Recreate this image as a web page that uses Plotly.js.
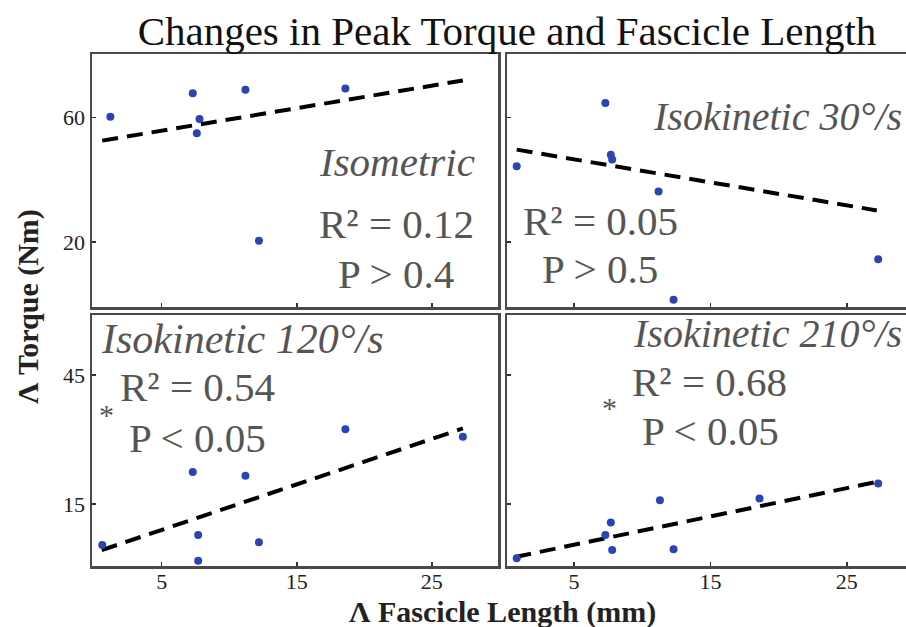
<!DOCTYPE html>
<html>
<head>
<meta charset="utf-8">
<script src="https://cdn.plot.ly/plotly-3.0.1.min.js"></script>
<style>html,body{margin:0;padding:0;background:#fff;}</style>
</head>
<body>
<div id="chart" style="width:906px;height:627px;"></div>
<script>
// ---- data ----
const panelNames = ["Isometric", "Isokinetic 30°/s", "Isokinetic 120°/s", "Isokinetic 210°/s"];
const r2Labels = ["R² = 0.12", "R² = 0.05", "R² = 0.54", "R² = 0.68"];
const pLabels = ["P > 0.4", "P > 0.5", "P < 0.05", "P < 0.05"];

const isoX = [1.2, 7.3, 11.2, 18.6, 7.8, 7.6, 12.2];
const isoY = [60.3, 67.8, 68.9, 69.3, 59.5, 55.0, 20.5];
const isoFitX = [0.6, 27.3];
const isoFitY = [52.6, 71.9];

const ik30X = [0.8, 7.3, 7.7, 7.8, 11.2, 12.3, 27.3];
const ik30Y = [44.4, 64.7, 48.1, 46.5, 36.3, 1.5, 14.5];
const ik30FitX = [0.8, 27.2];
const ik30FitY = [49.7, 30.2];

const ik120X = [0.6, 7.3, 11.2, 18.6, 27.3, 7.7, 12.2, 7.7];
const ik120Y = [5.5, 22.5, 21.6, 32.4, 30.7, 7.8, 6.1, 1.8];
const ik120FitX = [0.56, 27.3];
const ik120FitY = [4.3, 32.6];

const ik210X = [0.8, 7.7, 7.3, 7.8, 11.3, 12.3, 18.6, 27.3];
const ik210Y = [2.4, 10.7, 7.8, 4.3, 15.9, 4.5, 16.3, 19.8];
const ik210FitX = [0.7, 27.25];
const ik210FitY = [2.7, 20.2];

const xTicks = [5, 15, 25];
const yTicksTop = [20, 60];
const yTicksBottom = [15, 45];

const chartTitle = "Changes in Peak Torque and Fascicle Length";
const xTitle = "Λ Fascicle Length (mm)";
const yTitle = "Λ Torque (Nm)";

// ---- layout helpers ----
const W = 906, H = 627;
const px = v => v / W;
const py = v => 1 - v / H;
const serif = "Liberation Serif, Times New Roman, serif";
const dotColor = "#2c43b4";

function pts(x, y, xa, ya) {
  return {x: x, y: y, xaxis: xa, yaxis: ya, type: "scatter", mode: "markers",
          marker: {color: dotColor, size: 8}, showlegend: false, hoverinfo: "skip"};
}
function fit(x, y, xa, ya) {
  return {x: x, y: y, xaxis: xa, yaxis: ya, type: "scatter", mode: "lines",
          line: {color: "#000", width: 4, dash: "16px,9px"}, showlegend: false, hoverinfo: "skip"};
}

const data = [
  fit(isoFitX, isoFitY, "x", "y"), pts(isoX, isoY, "x", "y"),
  fit(ik30FitX, ik30FitY, "x2", "y2"), pts(ik30X, ik30Y, "x2", "y2"),
  fit(ik120FitX, ik120FitY, "x3", "y3"), pts(ik120X, ik120Y, "x3", "y3"),
  fit(ik210FitX, ik210FitY, "x4", "y4"), pts(ik210X, ik210Y, "x4", "y4")
];

function ax(extra) {
  return Object.assign({
    showgrid: false, zeroline: false, showline: true, linecolor: "#4a4a4a", linewidth: 2.5,
    ticks: "inside", ticklen: 4, tickwidth: 1.5, tickcolor: "#333", tickmode: "array",
    tickfont: {family: serif, size: 22, color: "#222"}, fixedrange: true
  }, extra);
}

const leftDom = [px(92), px(498)];
const rightDom = [px(507), 1];
const topDom = [py(307), py(54)];
const botDom = [py(566), py(315)];
const leftRange = [-0.16, 29.9];
const rightRange = [0.09, 29.34];
const topRange = [-0.8, 80.4];
const botRange = [0.6, 59];

function note(text, x, y, size, italic, anchor) {
  return {text: text, xref: "paper", yref: "paper", x: px(x), y: py(y),
          xanchor: anchor || "center", yanchor: "middle", showarrow: false,
          font: {family: serif, size: size, color: "#555", style: italic ? "italic" : "normal"}};
}

const layout = {
  width: W, height: H,
  margin: {l: 0, r: 0, t: 0, b: 0},
  paper_bgcolor: "#fff", plot_bgcolor: "#fff",
  showlegend: false,
  title: {text: chartTitle, x: px(507), xanchor: "center", xref: "paper",
          y: 1 - 31 / H, yanchor: "middle", yref: "container",
          font: {family: serif, size: 41, color: "#111"}},
  xaxis: ax({domain: leftDom, range: leftRange, tickvals: xTicks, showticklabels: false, mirror: true, anchor: "y"}),
  yaxis: ax({domain: topDom, range: topRange, tickvals: yTicksTop, mirror: true, anchor: "x"}),
  xaxis2: ax({domain: rightDom, range: rightRange, tickvals: xTicks, showticklabels: false, mirror: true, anchor: "y2"}),
  yaxis2: ax({domain: topDom, range: topRange, tickvals: yTicksTop, showticklabels: false, mirror: false, anchor: "x2"}),
  xaxis3: ax({domain: leftDom, range: leftRange, tickvals: xTicks, mirror: true, anchor: "y3", ticklabelstandoff: -6}),
  yaxis3: ax({domain: botDom, range: botRange, tickvals: yTicksBottom, mirror: true, anchor: "x3"}),
  xaxis4: ax({domain: rightDom, range: rightRange, tickvals: xTicks, mirror: true, anchor: "y4", ticklabelstandoff: -6}),
  yaxis4: ax({domain: botDom, range: botRange, tickvals: yTicksBottom, showticklabels: false, mirror: false, anchor: "x4"}),
  annotations: [
    note(panelNames[0], 397, 162, 41, true),
    note(r2Labels[0], 396, 224, 41, false),
    note(pLabels[0], 396, 274, 41, false),

    note(panelNames[1], 904, 116, 40, true, "right"),
    note(r2Labels[1], 600, 221, 41, false),
    note(pLabels[1], 600, 269, 41, false),

    note(panelNames[2], 243, 339, 42, true),
    note(r2Labels[2], 197, 387, 41, false),
    note("*", 106, 414, 30, false),
    note(pLabels[2], 197, 438, 41, false),

    note(panelNames[3], 904, 333, 40, true, "right"),
    note(r2Labels[3], 709, 382, 41, false),
    note("*", 609, 407, 30, false),
    note(pLabels[3], 710, 431, 41, false),

    {text: "<b>" + xTitle + "</b>", xref: "paper", yref: "paper", x: px(502), y: py(612),
     xanchor: "center", yanchor: "middle", showarrow: false,
     font: {family: serif, size: 30, color: "#222"}},
    {text: "<b>" + yTitle + "</b>", xref: "paper", yref: "paper", x: px(28), y: py(307),
     xanchor: "center", yanchor: "middle", showarrow: false, textangle: -90,
     font: {family: serif, size: 30, color: "#222"}}
  ]
};

Plotly.newPlot("chart", data, layout, {staticPlot: true, displayModeBar: false});
</script>
</body>
</html>
